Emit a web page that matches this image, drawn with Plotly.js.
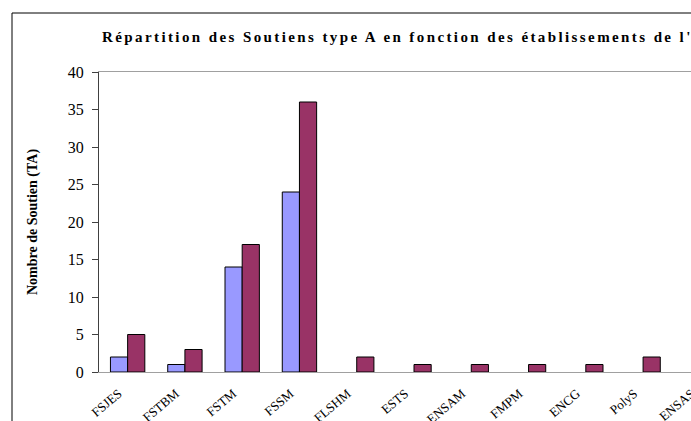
<!DOCTYPE html>
<html>
<head>
<meta charset="utf-8">
<script src="https://cdn.plot.ly/plotly-3.0.1.min.js"></script>
<style>
html,body{margin:0;padding:0;background:#fff;overflow:hidden;width:691px;height:421px;}
#chart{width:800px;height:470px;}
.gtitle{letter-spacing:2.4px;}
</style>
</head>
<body>
<div id="chart"></div>
<script>
const categories = ["FSJES","FSTBM","FSTM","FSSM","FLSHM","ESTS","ENSAM","FMPM","ENCG","PolyS","ENSAS"];
const seriesA = [2, 1, 14, 24, null, null, null, null, null, null, null];
const seriesB = [5, 3, 17, 36, 2, 1, 1, 1, 1, 2, 1];
const yTicks = [0,5,10,15,20,25,30,35,40];

const W = 800, H = 470;
const L = 99, T = 72, B = 98, R = 71;
const pw = W - L - R, ph = H - T - B;
const px = v => (v - L) / pw;
const py = v => (H - B - v) / ph;

const traces = [
  {type:'bar', x:categories, y:seriesA, name:'A',
   marker:{color:'#9999FF', line:{color:'#000', width:1}}},
  {type:'bar', x:categories, y:seriesB, name:'B',
   marker:{color:'#993366', line:{color:'#000', width:1}}}
];

const layout = {
  width:W, height:H,
  margin:{l:L, r:R, t:T, b:B, pad:0},
  paper_bgcolor:'#fff', plot_bgcolor:'#fff',
  showlegend:false,
  barmode:'group', bargap:0.4, bargroupgap:0,
  title:{text:"Répartition des Soutiens type A en fonction des établissements de l'UCA",
         font:{family:'Liberation Serif', size:15, color:'#000', weight:'bold'},
         xref:'container', x:102/W, xanchor:'left', yref:'container', y:1-37/H, yanchor:'middle'},
  xaxis:{type:'category', range:[-0.5, categories.length-0.5],
         showline:true, linecolor:'#a0a0a0', linewidth:1, mirror:true,
         showgrid:false, ticks:'', tickangle:-40,
         ticklabelstandoff:8, ticklabelshift:-9,
         tickfont:{family:'Liberation Serif', size:13, color:'#000'}},
  yaxis:{range:[0,40], tickvals:yTicks, showline:true, linecolor:'#404040', linewidth:1,
         showgrid:false, zeroline:false, ticks:'outside', ticklen:6, tickcolor:'#404040',
         ticklabelstandoff:5,
         tickfont:{family:'Liberation Serif', size:16, color:'#000'},
         title:{text:'Nombre de Soutien (TA)', standoff:26,
                font:{family:'Liberation Serif', size:14, color:'#000', weight:'bold'}}},
  shapes:[
    {type:'line', xref:'paper', yref:'paper', x0:px(12), x1:px(12), y0:py(13), y1:py(H), line:{color:'#000', width:1}},
    {type:'line', xref:'paper', yref:'paper', x0:px(12), x1:px(W), y0:py(13), y1:py(13), line:{color:'#000', width:1}}
  ]
};

Plotly.newPlot('chart', traces, layout, {displayModeBar:false, responsive:false});
</script>
</body>
</html>
